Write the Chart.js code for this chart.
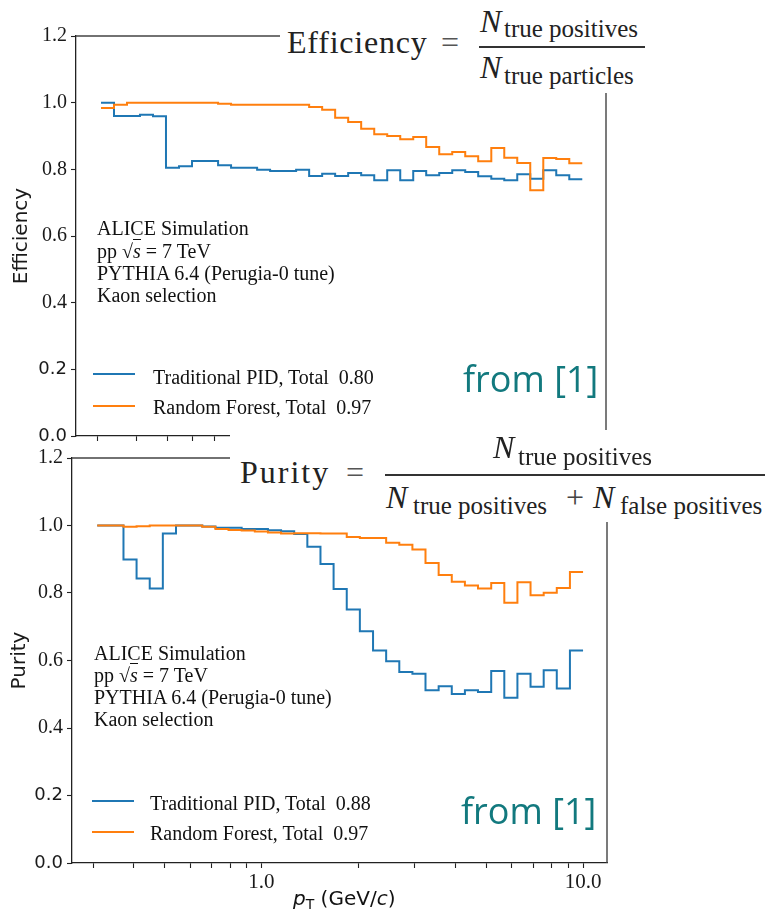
<!DOCTYPE html>
<html><head><meta charset="utf-8">
<script src="https://cdn.jsdelivr.net/npm/chart.js@4.4.1/dist/chart.umd.min.js"></script>
<style>
html,body{margin:0;padding:0;background:#fff;width:765px;height:918px;overflow:hidden;}
#wrap{position:relative;width:765px;height:918px;background:#fff;}
canvas{position:absolute;left:0;}
.t{position:absolute;white-space:pre;line-height:1;color:#111;}
.box{position:absolute;background:#fff;}
.ln{position:absolute;height:2.4px;}
</style></head><body>
<div id="wrap">
<canvas id="c1" width="765" height="441" style="top:0;width:765px;height:441px"></canvas>
<canvas id="c2" width="765" height="477" style="top:441px;width:765px;height:477px"></canvas>
<div id="overlay"></div>
</div>
<script>
// ---------------- data ----------------
const binEdges = [0.3086, 0.3390, 0.3724, 0.4090, 0.4494, 0.4936, 0.5424, 0.5958, 0.6546, 0.7193,
  0.7900, 0.8679, 0.9537, 1.0476, 1.1508, 1.2642, 1.3890, 1.5259, 1.6762, 1.8418,
  2.0230, 2.2233, 2.4421, 2.6830, 2.9471, 3.2367, 3.5563, 3.9066, 4.2914, 4.7131,
  5.1810, 5.6902, 6.2504, 6.8660, 7.5440, 8.2850, 9.1030, 10.0];

const effTraditional = [1.000, 0.960, 0.960, 0.964, 0.959, 0.805, 0.809, 0.825, 0.825, 0.812,
  0.805, 0.805, 0.799, 0.795, 0.795, 0.799, 0.780, 0.787, 0.780, 0.789,
  0.782, 0.767, 0.797, 0.767, 0.795, 0.782, 0.789, 0.797, 0.792, 0.779,
  0.772, 0.767, 0.785, 0.772, 0.797, 0.782, 0.770];

const effRandomForest = [0.984, 0.994, 1.000, 1.000, 1.000, 1.000, 1.000, 1.000, 1.000, 0.997,
  0.994, 0.994, 0.994, 0.994, 0.994, 0.994, 0.987, 0.979, 0.955, 0.942,
  0.922, 0.905, 0.900, 0.890, 0.897, 0.867, 0.845, 0.852, 0.839, 0.824,
  0.864, 0.835, 0.819, 0.737, 0.834, 0.831, 0.818];

const purTraditional = [1.000, 1.000, 0.899, 0.843, 0.813, 0.976, 1.000, 1.000, 0.997, 0.993,
  0.993, 0.990, 0.990, 0.986, 0.983, 0.975, 0.937, 0.886, 0.812, 0.751,
  0.687, 0.630, 0.598, 0.566, 0.561, 0.512, 0.524, 0.501, 0.512, 0.507,
  0.569, 0.490, 0.561, 0.522, 0.571, 0.517, 0.630];

const purRandomForest = [1.000, 1.000, 0.996, 0.998, 1.000, 1.000, 1.000, 1.000, 0.996, 0.990,
  0.987, 0.985, 0.982, 0.979, 0.976, 0.977, 0.977, 0.976, 0.976, 0.966,
  0.963, 0.963, 0.949, 0.943, 0.929, 0.889, 0.853, 0.833, 0.822, 0.813,
  0.830, 0.771, 0.832, 0.793, 0.801, 0.815, 0.862];

const seriesNames = ['Traditional PID', 'Random Forest'];
const effTotals = ['0.80', '0.97'];
const purTotals = ['0.88', '0.97'];
const xTickValues = [0.3, 0.4, 0.5, 0.6, 0.7, 0.8, 0.9, 1, 2, 3, 4, 5, 6, 7, 8, 9, 10];
const xMajorValues = [1, 10];
const xMajorLabels = ['1.0', '10.0'];
const yTickValues = [0.0, 0.2, 0.4, 0.6, 0.8, 1.0, 1.2];
const ySansTicks = [0.0, 0.2];                   // these two labels are printed in sans
const annotationLines = ['ALICE Simulation', 'pp √s = 7 TeV', 'PYTHIA 6.4 (Perugia-0 tune)', 'Kaon selection'];

// ---------------- styling ----------------
const BLUE = '#1f77b4', ORANGE = '#ff7f0e', TEAL = '#12797e', INK = '#1a1a1a';
const LS = 'Liberation Serif', DS = 'DejaVu Sans', OS = 'Open Sans';

function stepPoints(vals) {
  const pts = vals.map((v, i) => ({x: binEdges[i], y: v}));
  pts.push({x: binEdges[vals.length], y: vals[vals.length - 1]});
  return pts;
}

const frame = {
  id: 'frame',
  afterDraw(c) {
    const {ctx, chartArea: a} = c;
    ctx.save();
    ctx.strokeStyle = '#444'; ctx.lineWidth = 1.4;
    ctx.beginPath();
    ctx.moveTo(a.left, a.top); ctx.lineTo(a.right, a.top); ctx.lineTo(a.right, a.bottom);
    ctx.stroke();
    ctx.restore();
  }
};

function isSans(v) { return ySansTicks.some(t => Math.abs(t - v) < 1e-9); }

function makeChart(id, cfg) {
  const ds = (label, vals, color, order) => ({
    label, data: stepPoints(vals), borderColor: color, backgroundColor: color,
    borderWidth: 2, stepped: true, pointRadius: 0, fill: false, order,
    borderJoinStyle: 'miter'
  });
  const tickGrid = {display: true, drawOnChartArea: false, drawTicks: true, tickLength: 5, tickColor: '#222', tickWidth: 1.1};
  return new Chart(document.getElementById(id), {
    type: 'line',
    data: {datasets: [
      ds(seriesNames[1], cfg.rf, ORANGE, 0),
      ds(seriesNames[0], cfg.trad, BLUE, 1)
    ]},
    options: {
      responsive: false, animation: false, events: [],
      layout: {padding: cfg.pad},
      plugins: {legend: {display: false}, tooltip: {enabled: false}, title: {display: false}},
      scales: {
        x: {
          type: 'logarithmic', min: 0.2576, max: 11.87,
          afterBuildTicks: s => { s.ticks = xTickValues.map(v => ({value: v})); },
          ticks: {
            autoSkip: false, maxRotation: 0, minRotation: 0, padding: 2, color: INK,
            font: {family: LS, size: 21},
            callback: v => {
              if (!cfg.xLabels) return '';
              const i = xMajorValues.indexOf(v);
              return i >= 0 ? xMajorLabels[i] : '';
            }
          },
          grid: tickGrid,
          border: {display: true, color: '#222', width: 1.3},
          afterFit: s => { s.height = cfg.xHeight; s.paddingLeft = 0; s.paddingRight = 0; }
        },
        y: {
          type: 'linear', min: 0, max: 1.2,
          afterBuildTicks: s => { s.ticks = yTickValues.map(v => ({value: v})); },
          ticks: {
            padding: 4, color: INK, autoSkip: false,
            font: c => (c.tick && isSans(c.tick.value)) ? {family: DS, size: 18} : {family: LS, size: 20},
            callback: v => Number(v).toFixed(1)
          },
          grid: tickGrid,
          border: {display: true, color: '#222', width: 1.3},
          title: {display: true, text: cfg.yTitle, color: INK, font: {family: DS, size: 20}, padding: {top: cfg.titlePad, bottom: 0}},
          afterFit: s => { s.width = cfg.yWidth; s.paddingTop = 0; s.paddingBottom = 0; }
        }
      }
    },
    plugins: [frame]
  });
}

makeChart('c1', {trad: effTraditional, rf: effRandomForest, yTitle: 'Efficiency',
  pad: {top: 36, right: 159, bottom: 0, left: 0}, yWidth: 76, xHeight: 5, xLabels: false, titlePad: 10});
makeChart('c2', {trad: purTraditional, rf: purRandomForest, yTitle: 'Purity',
  pad: {top: 17, right: 158, bottom: 0, left: 0}, yWidth: 72, xHeight: 55, xLabels: true, titlePad: 8});

// ---------------- text overlays ----------------
const K = {'Liberation Serif': 0.8375, 'DejaVu Sans': 0.846, 'Open Sans': 0.888};
const overlay = document.getElementById('overlay');
function put(html, x, base, size, fam, style) {
  const d = document.createElement('div');
  d.className = 't';
  d.innerHTML = html;
  d.style.left = x + 'px';
  d.style.top = (base - K[fam] * size) + 'px';
  d.style.fontSize = size + 'px';
  d.style.fontFamily = "'" + fam + "'";
  if (style) d.style.cssText += ';' + style;
  overlay.appendChild(d);
  return d;
}
function rect(cls, x, y, w, h, color) {
  const d = document.createElement('div');
  d.className = cls;
  d.style.left = x + 'px'; d.style.top = y + 'px'; d.style.width = w + 'px'; d.style.height = h + 'px';
  if (color) d.style.background = color;
  overlay.appendChild(d);
}

// white boxes of the pasted formulas
rect('box', 280, 0, 485, 93);
rect('box', 230, 430, 535, 92);

// Efficiency formula
put('Efficiency', 287, 53, 32, LS, 'letter-spacing:0.8px;color:#222');
put('=', 441, 53, 32, LS, 'color:#555');
rect('ln', 479, 45.5, 166, 2, '#333');
put('<i>N</i>', 480, 31.5, 32, LS, 'color:#222');
put('true positives', 504, 37, 25, LS, 'color:#222');
put('<i>N</i>', 480, 78, 32, LS, 'color:#222');
put('true particles', 504, 83.5, 25, LS, 'color:#222');

// Purity formula
put('Purity', 240, 483, 32, LS, 'letter-spacing:2px;color:#222');
put('=', 346, 483, 32, LS, 'color:#555');
rect('ln', 385, 474, 380, 2, '#333');
put('<i>N</i>', 493, 458, 32, LS, 'color:#222');
put('true positives', 518, 465, 25, LS, 'color:#222');
put('<i>N</i>', 386, 508, 32, LS, 'color:#222');
put('true positives', 413, 514, 25, LS, 'color:#222');
put('+', 566, 508, 32, LS, 'color:#444');
put('<i>N</i>', 593, 508, 32, LS, 'color:#222');
put('false positives', 620, 514, 25, LS, 'color:#222');

// ALICE annotation blocks
function annot(x, bases) {
  annotationLines.forEach((s, i) => {
    let html = s.replace('√s', '√<span style="border-top:1px solid #111"><i>s</i></span>');
    put(html, x, bases[i], 20, LS);
  });
}
annot(97, [235, 257.3, 280, 301.7]);
annot(94, [659.3, 681.7, 704, 726]);

// legends (from series names / colours / totals)
function legend(lx, ly, tx, tb, totals) {
  const colors = [BLUE, ORANGE];
  seriesNames.forEach((n, i) => {
    rect('ln', lx, ly[i] - 1.2, 42, 2.4, colors[i]);
    put(n + ', Total  ' + totals[i], tx, tb[i], 20, LS);
  });
}
legend(93, [374.3, 405.7], 153, [383.3, 414], effTotals);
legend(92, [801, 831.7], 150, [809.3, 840], purTotals);

// "from [1]"
put('from [1]', 463, 393, 36, OS, 'color:' + TEAL);
put('from [1]', 461, 825, 36, OS, 'color:' + TEAL);

// x-axis title
put('<i>p</i><span style="font-size:14px;position:relative;top:4px">T</span> (GeV/<i>c</i>)', 293, 905, 20, DS);
</script>
</body></html>
